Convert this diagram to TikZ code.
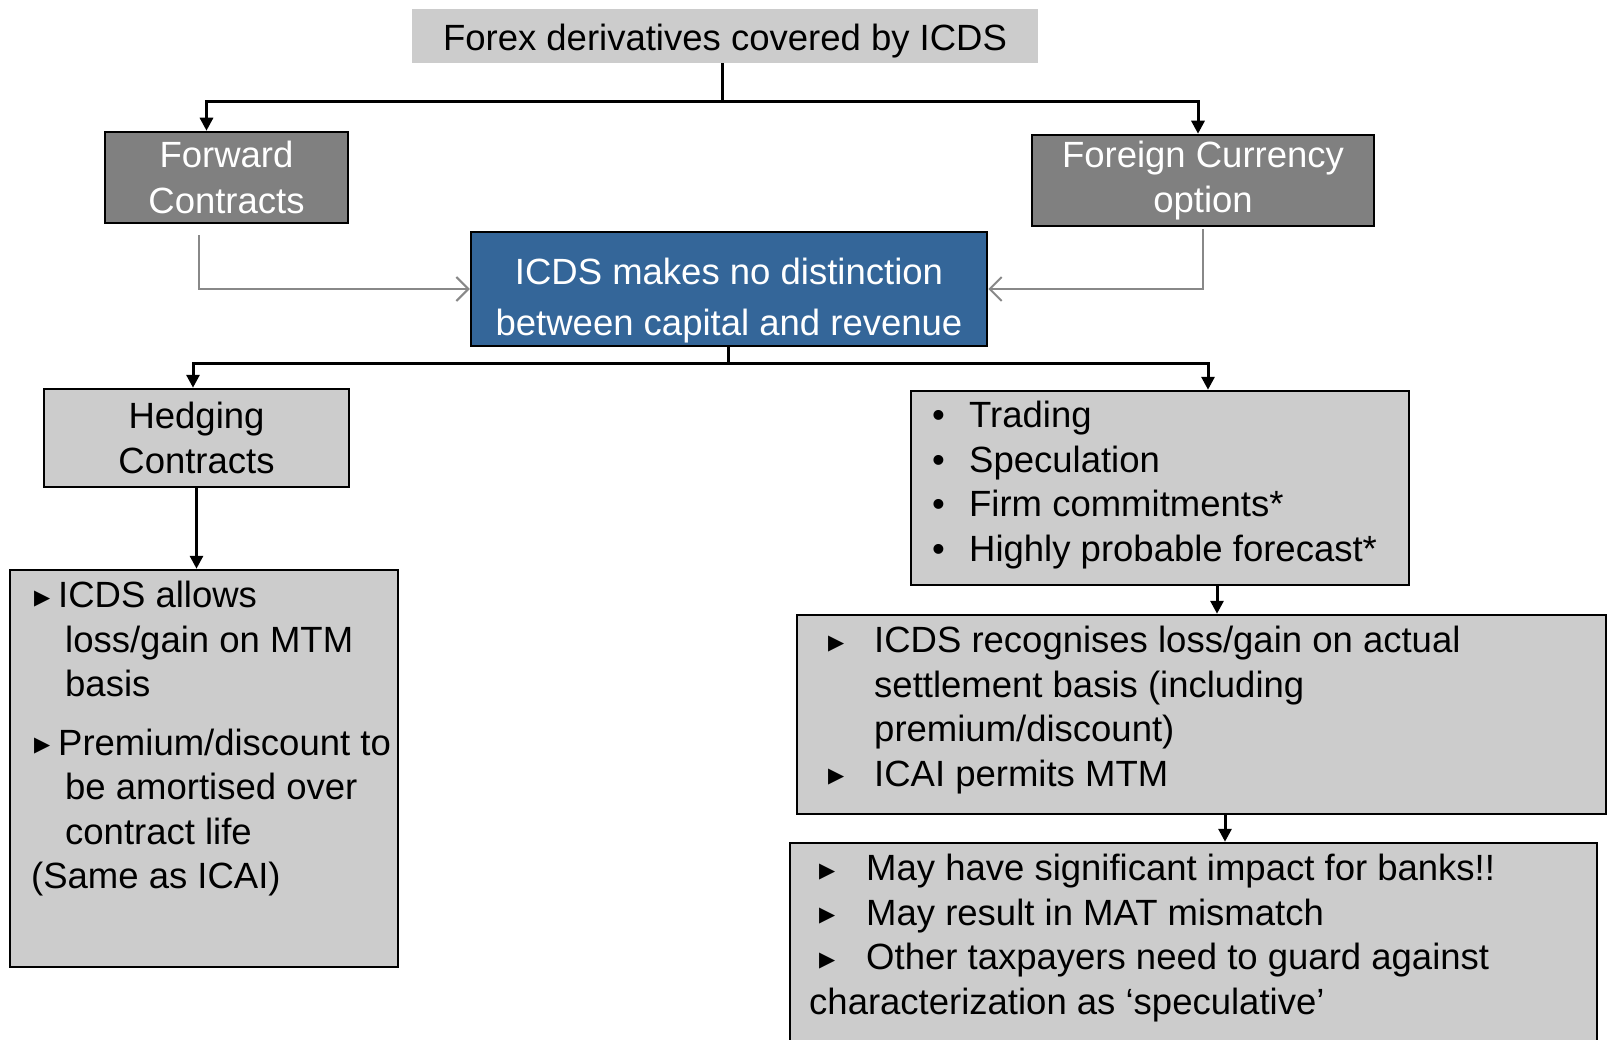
\documentclass[tikz,border=0pt]{standalone}
\usepackage{fontspec}
\setmainfont{Liberation Sans}
\newfontfamily\trifont{DejaVu Sans}
\usetikzlibrary{arrows.meta}

\definecolor{boxgrey}{HTML}{CCCCCC}
\definecolor{headgrey}{HTML}{808080}
\definecolor{icdsblue}{HTML}{346699}
\definecolor{feedgrey}{HTML}{888888}

\newcommand{\tribullet}[1]{\makebox[#1][l]{\raisebox{3.5pt}{\trifont\fontsize{21}{21}\selectfont ▶}}}
\newcommand{\dotbullet}{\makebox[37pt][l]{•}}

\tikzset{
  txt/.style={font=\fontsize{36.5}{44.5}\selectfont, inner sep=0pt},
  plainbox/.style={txt, draw=black, line width=2.5pt, fill=boxgrey, align=center},
  headbox/.style={txt, draw=black, line width=2.5pt, fill=headgrey, text=white, align=center},
  trunk/.style={line width=3pt},
  flow/.style={trunk, -{Triangle[length=13pt,width=13pt]}},
  feed/.style={line width=2pt, draw=feedgrey, -{Straight Barb[length=12pt,width=24pt,line width=2pt]}},
}

\begin{document}
\begin{tikzpicture}[x=1pt, y=-1pt]
  \fill[white] (0,0) rectangle (1608,1040);
  \useasboundingbox (0,0) rectangle (1608,1040);

  % top row
  \node[txt, fill=boxgrey, minimum width=626pt, minimum height=54pt, text height=36pt, text depth=7pt] (title) at (725,36) {Forex derivatives covered by ICDS};
  \node[headbox, minimum width=243pt, minimum height=91pt, font=\fontsize{36.5}{46}\selectfont] (fwd) at (226.5,177.5) {Forward\\Contracts};
  \node[headbox, minimum width=342pt, minimum height=91pt, font=\fontsize{36.5}{45}\selectfont] (fco) at (1203,180.5) {Foreign Currency\\option};

  % centre box
  \node[draw=black, line width=2.5pt, fill=icdsblue, minimum width=516pt, minimum height=114pt] (icds) at (729,289) {};
  \node[txt, text=white, align=center, font=\fontsize{36.5}{51}\selectfont] (icdstext) at (729,301) {ICDS makes no distinction\\between capital and revenue};

  % second row
  \node[plainbox, minimum width=305pt, minimum height=98pt] (hedge) at (196.5,438) {Hedging\\Contracts};
  \node[plainbox, minimum width=498pt, minimum height=194pt] (trade) at (1160,488) {};
  \node[txt, anchor=west, align=left] (tradetext) at (932,485) {\dotbullet Trading\\\dotbullet Speculation\\\dotbullet Firm commitments*\\\dotbullet Highly probable forecast*};

  % lower boxes
  \node[plainbox, minimum width=388pt, minimum height=397pt] (mtm) at (204,768.5) {};
  \node[txt, anchor=west, align=left] (mtmtext) at (31,739) {%
    \hspace*{3pt}\tribullet{24pt}ICDS allows\\
    \hspace*{34pt}loss/gain on MTM\\
    \hspace*{34pt}basis\\[14pt]
    \hspace*{3pt}\tribullet{24pt}Premium/discount to\\
    \hspace*{34pt}be amortised over\\
    \hspace*{34pt}contract life\\
    (Same as ICAI)};

  \node[plainbox, minimum width=809pt, minimum height=199pt] (settle) at (1201.5,714.5) {};
  \node[txt, anchor=west, align=left] (settletext) at (828,710) {%
    \tribullet{46pt}ICDS recognises loss/gain on actual\\
    \hspace*{46pt}settlement basis (including\\
    \hspace*{46pt}premium/discount)\\
    \tribullet{46pt}ICAI permits MTM};

  \node[plainbox, minimum width=807pt, minimum height=220pt] (banks) at (1193.5,953) {};
  \node[txt, anchor=west, align=left] (bankstext) at (809,938) {%
    \hspace*{10pt}\tribullet{47pt}May have significant impact for banks!!\\
    \hspace*{10pt}\tribullet{47pt}May result in MAT mismatch\\
    \hspace*{10pt}\tribullet{47pt}Other taxpayers need to guard against\\
    characterization as ‘speculative’};

  % connectors
  \coordinate (split1) at (722,101.5);
  \coordinate (split2) at (728,363);
  \draw[trunk] (split1 |- title.south) -- (split1);
  \draw[flow] (split1) -| ([xshift=-20pt]fwd.north);
  \draw[flow] (split1) -| ([xshift=-5pt]fco.north);

  \draw[feed] ([xshift=-27.5pt,yshift=-11pt]fwd.south) |- (icds.west);
  \draw[feed] ([yshift=-2pt]fco.south) |- (icds.east);

  \draw[trunk] (split2 |- icds.south) -- (split2);
  \draw[flow] (split2) -| ([xshift=-3.5pt]hedge.north);
  \draw[flow] (split2) -| ([xshift=48pt]trade.north);

  \draw[flow] (hedge.south) -- (hedge.south |- mtm.north);
  \draw[flow] ([xshift=57pt]trade.south) -- ([xshift=57pt]trade.south |- settle.north);
  \draw[flow] ([xshift=23.5pt]settle.south) -- ([xshift=23.5pt]settle.south |- banks.north);
\end{tikzpicture}
\end{document}
